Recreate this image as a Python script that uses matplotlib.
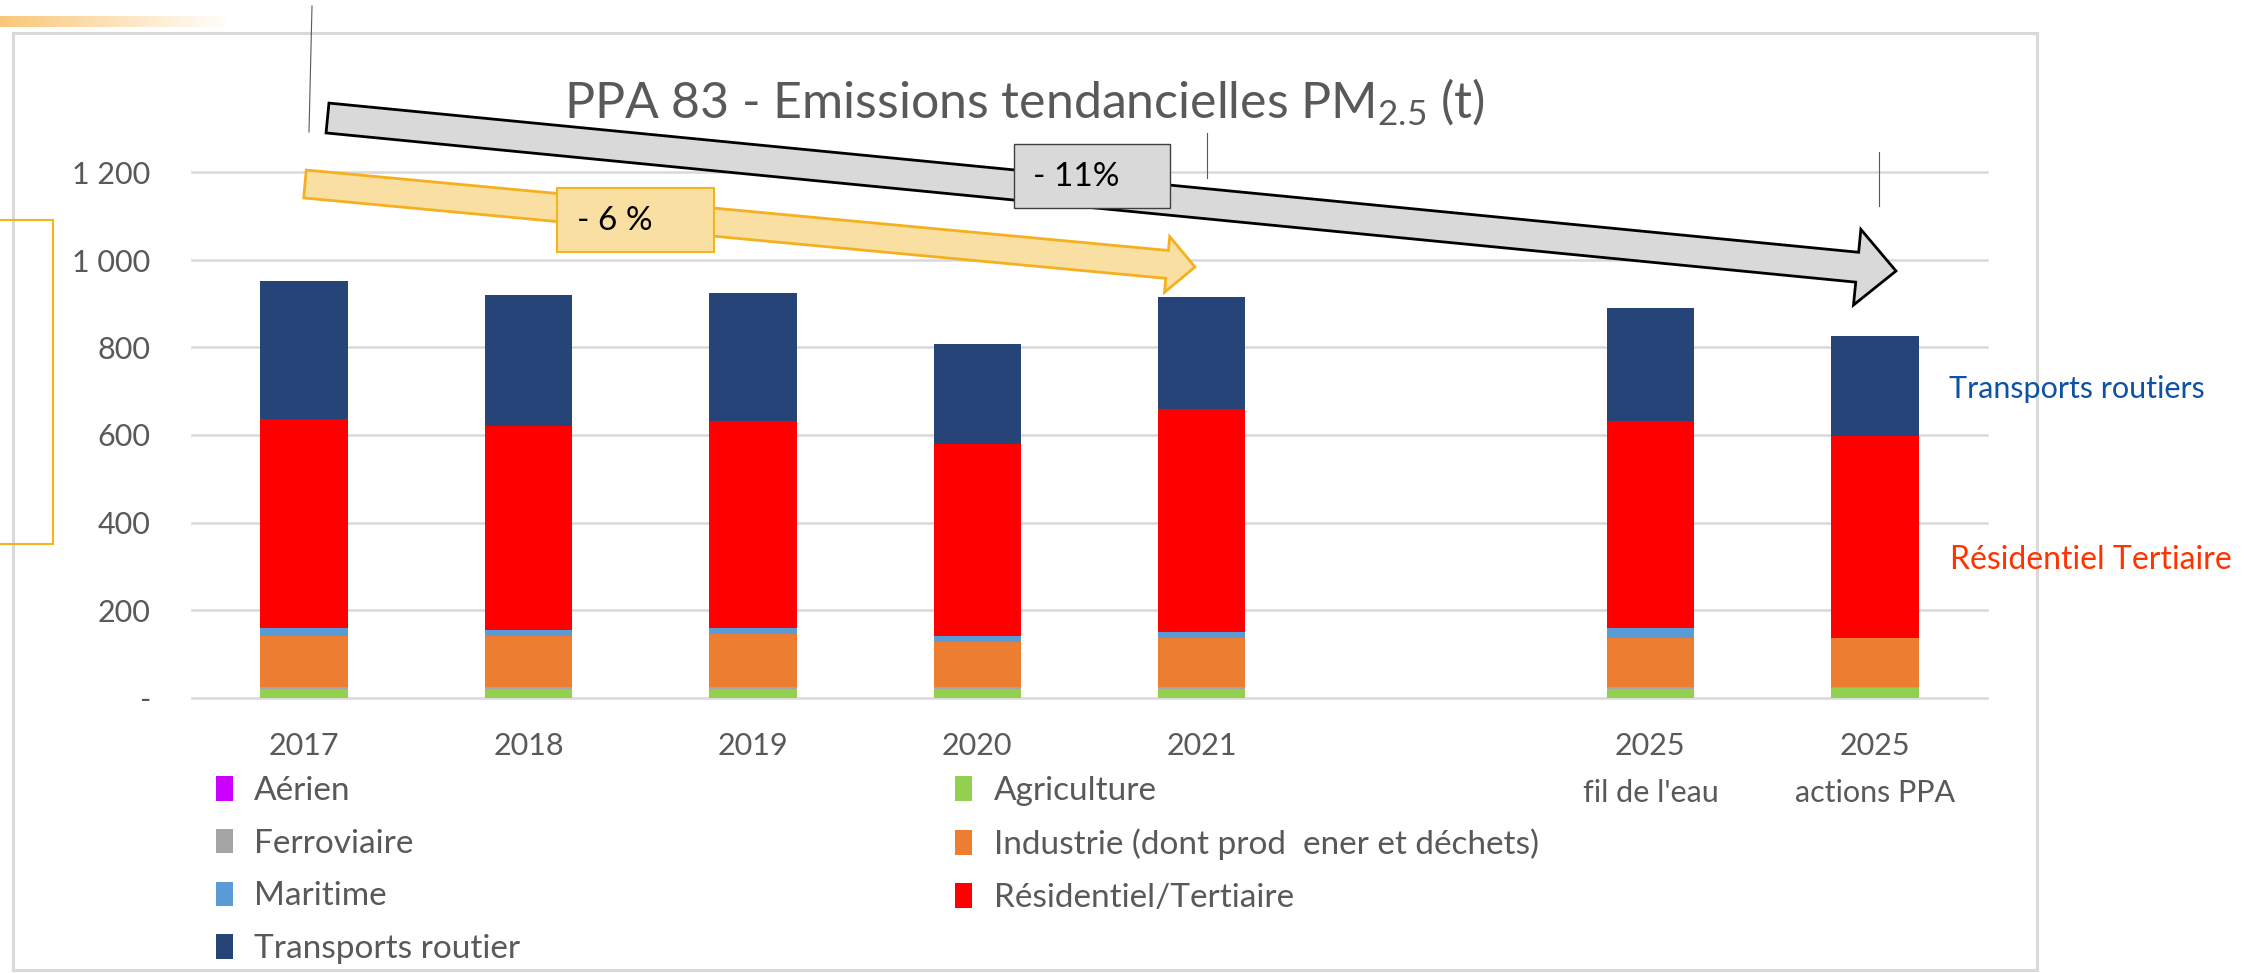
import numpy as np
import matplotlib
matplotlib.use('Agg')
import matplotlib.pyplot as plt
from matplotlib.patches import Polygon, Rectangle

plt.rcParams['font.family'] = ['Lato', 'DejaVu Sans']
plt.rcParams['mathtext.default'] = 'regular'

# data (t PM2.5); empty slot = gap before 2025
categories = ['2017', '2018', '2019', '2020', '2021', '', "2025\nfil de l'eau", '2025\nactions PPA']
nan = np.nan
aerien = [0, 0, 0, 0, 0, nan, 0, 0]
agriculture = [20, 20, 20, 20, 20, nan, 20, 21]
ferroviaire = [3, 3, 3, 3, 3, nan, 3, 3]
industrie = [117, 117, 122, 104, 114, nan, 114, 111]
maritime = [18, 14, 13, 13, 13, nan, 21, 0]
residentiel = [479, 466, 475, 440, 510, nan, 475, 463]
transports = [315, 301, 292, 229, 256, nan, 258, 228]

series_names = ['Aérien', 'Agriculture', 'Ferroviaire', 'Industrie (dont prod  ener et déchets)',
                'Maritime', 'Résidentiel/Tertiaire', 'Transports routier']
series_values = [aerien, agriculture, ferroviaire, industrie, maritime, residentiel, transports]
colors = ['#CC00FF', '#92D050', '#A5A5A5', '#ED7D31', '#5B9BD5', '#FF0000', '#264478']

yticks = [0, 200, 400, 600, 800, 1000, 1200]
ytick_labels = ['-', '200', '400', '600', '800', '1 000', '1 200']

W, H = 2257, 973
fig = plt.figure(figsize=(W / 100, H / 100), dpi=100)
ax = fig.add_axes([192 / W, 1 - 697.5 / H, (1987 - 192) / W, (697.5 - 172.5) / H])

x = np.arange(len(categories))
bottom = np.zeros(len(categories))
bars = {}
for name, vals, col in zip(series_names, series_values, colors):
    v = np.array(vals, dtype=float)
    bars[name] = ax.bar(x, v, 0.39, bottom=bottom, color=col, linewidth=0, zorder=3, label=name)
    bottom = bottom + v

ax.set_xlim(-0.5, 7.5)
ax.set_ylim(0, 1200)
ax.set_yticks(yticks)
ax.set_yticklabels(ytick_labels)
ax.set_xticks(x)
ax.set_xticklabels(categories, linespacing=1.8)
ax.grid(axis='y', color='#D9D9D9', lw=1.8)
for gl in ax.get_ygridlines():
    gl.set_clip_on(False)
ax.set_axisbelow(True)
for s in ax.spines.values():
    s.set_visible(False)
ax.tick_params(axis='both', length=0, labelsize=22, labelcolor='#595959')
ax.tick_params(axis='y', pad=30)
ax.tick_params(axis='x', pad=25)

order = ['Aérien', 'Ferroviaire', 'Maritime', 'Transports routier',
         'Agriculture', 'Industrie (dont prod  ener et déchets)', 'Résidentiel/Tertiaire']
leg = ax.legend([bars[n] for n in order], order, ncol=2, loc='upper left',
                bbox_to_anchor=(216 / W, 1 - 776 / H), bbox_transform=fig.transFigure,
                frameon=False, fontsize=24, handlelength=0.5, handleheight=0.75,
                handletextpad=0.65, columnspacing=13.05, labelspacing=0.68,
                borderpad=0, borderaxespad=0)
for t in leg.get_texts():
    t.set_color('#595959')

# overlay in pixel coordinates for the annotations
ov = fig.add_axes([0, 0, 1, 1], zorder=10)
ov.patch.set_alpha(0)

g = np.linspace(0, 1, 200)[None, :, None]
grad = np.array([0.98, 0.78, 0.47]) * (1 - g) + np.array([1.0, 1.0, 1.0]) * g
ov.imshow(grad, extent=[0, 230, 27, 16], aspect='auto', zorder=1)

ov.add_patch(Rectangle((13, 33), 2024, 937, fill=False, ec='#D9D9D9', lw=2.2))
ov.add_patch(Rectangle((-10, 220), 63, 324, fill=False, ec='#F4B41E', lw=1.5))


def block_arrow(a, tail, tip, w, hw, hl, fc, ec, lw):
    t = np.array(tail, dtype=float)
    p = np.array(tip, dtype=float)
    u = (p - t) / np.hypot(*(p - t))
    n = np.array([-u[1], u[0]])
    h = p - u * hl
    pts = [t + n * w, h + n * w, h + n * hw, p, h - n * hw, h - n * w, t - n * w]
    a.add_patch(Polygon(pts, closed=True, fc=fc, ec=ec, lw=lw, joinstyle='miter', zorder=3))


block_arrow(ov, (327.5, 118), (1896, 271), 15, 38, 39, '#D9D9D9', 'black', 2)
block_arrow(ov, (305, 184), (1195, 267), 14, 28, 28, '#F9E0A2', '#F4B01E', 2)

ov.add_patch(Rectangle((1014, 144), 156, 64, fc='#D9D9D9', ec='#404040', lw=1, zorder=4))
ov.text(1033, 177, '- 11%', fontsize=24, color='black', va='center', zorder=5)
ov.add_patch(Rectangle((557, 188), 157, 64, fc='#F9E0A2', ec='#F4B41E', lw=1.5, zorder=4))
ov.text(577, 221, '- 6 %', fontsize=24, color='black', va='center', zorder=5)

ov.plot([312, 309], [6, 132], color='#595959', lw=0.8)
ov.plot([1207, 1207], [133, 178], color='#595959', lw=0.8)
ov.plot([1879, 1879], [152, 206], color='#595959', lw=0.8)

ov.text(1024, 102, 'PPA 83 - Emissions tendancielles PM$_{2.5}$ (t)', fontsize=36,
        color='#595959', ha='center', va='center')
ov.text(1949, 389, 'Transports routiers', fontsize=22, color='#0E52A5', va='center')
ov.text(1950, 560, 'Résidentiel Tertiaire', fontsize=23, color='#FF3300', va='center')

ov.set_xlim(0, W)
ov.set_ylim(H, 0)
ov.axis('off')

fig.savefig('out.png', dpi=100, facecolor='white')
